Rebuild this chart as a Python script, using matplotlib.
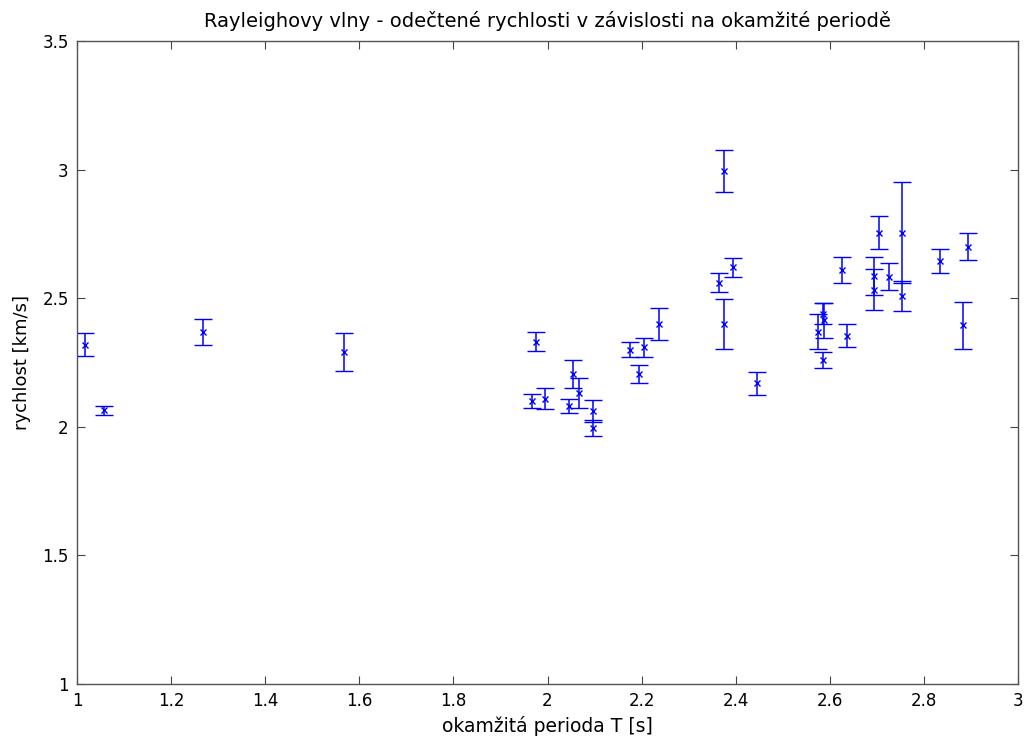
import matplotlib
matplotlib.use("Agg")
import matplotlib.pyplot as plt
import numpy as np

plt.rcParams['font.family'] = ['DejaVu Sans']

# perioda T [s], rychlost [km/s], chyba [km/s]
perioda = [1.017, 1.058, 1.268, 1.567, 1.966, 1.976, 1.995, 2.045, 2.055,
           2.066, 2.096, 2.096, 2.175, 2.195, 2.206, 2.236, 2.364, 2.375,
           2.375, 2.395, 2.446, 2.575, 2.585, 2.587, 2.585, 2.625, 2.636,
           2.694, 2.694, 2.705, 2.725, 2.754, 2.754, 2.834, 2.884, 2.894]
rychlost = [2.32, 2.064, 2.37, 2.29, 2.10, 2.33, 2.11, 2.08, 2.205,
            2.13, 2.06, 1.995, 2.30, 2.205, 2.31, 2.40, 2.56, 2.995,
            2.40, 2.62, 2.17, 2.37, 2.44, 2.415, 2.26, 2.61, 2.355,
            2.585, 2.533, 2.755, 2.584, 2.755, 2.51, 2.645, 2.395, 2.70]
chyba = [0.044, 0.017, 0.05, 0.073, 0.028, 0.037, 0.039, 0.028, 0.055,
         0.058, 0.043, 0.032, 0.029, 0.035, 0.037, 0.062, 0.037, 0.083,
         0.097, 0.038, 0.045, 0.068, 0.042, 0.068, 0.03, 0.049, 0.045,
         0.074, 0.08, 0.065, 0.053, 0.195, 0.058, 0.046, 0.092, 0.053]

xticks = [1, 1.2, 1.4, 1.6, 1.8, 2, 2.2, 2.4, 2.6, 2.8, 3]
yticks = [1, 1.5, 2, 2.5, 3, 3.5]

fig = plt.figure(figsize=(10.25, 7.42), dpi=100)
ax = fig.add_axes([0.0751, 0.0782, 0.9181, 0.8665])

ax.errorbar(perioda, rychlost, yerr=chyba, fmt='x', color='#0000ff',
            ecolor='#0000ff', elinewidth=1.1, capsize=6.8, capthick=1.3,
            markersize=5, markeredgewidth=1.0)

ax.set_xlim(1, 3)
ax.set_ylim(1, 3.5)
ax.set_xticks(xticks)
ax.set_xticklabels([f"{t:g}" for t in xticks])
ax.set_yticks(yticks)
ax.set_yticklabels([f"{t:g}" for t in yticks])
ax.tick_params(direction='in', top=True, right=True, length=6, width=0.8,
               labelsize=12, color='#444444', pad=6)
for s in ax.spines.values():
    s.set_color('#555555')
    s.set_linewidth(1.0)

ax.set_title("Rayleighovy vlny - odečtené rychlosti v závislosti na okamžité periodě",
             fontsize=14, pad=10)
ax.set_xlabel("okamžitá perioda T [s]", fontsize=13.5, labelpad=4)
ax.set_ylabel("rychlost [km/s]", fontsize=13, labelpad=8)

fig.savefig("out.png", dpi=100)
